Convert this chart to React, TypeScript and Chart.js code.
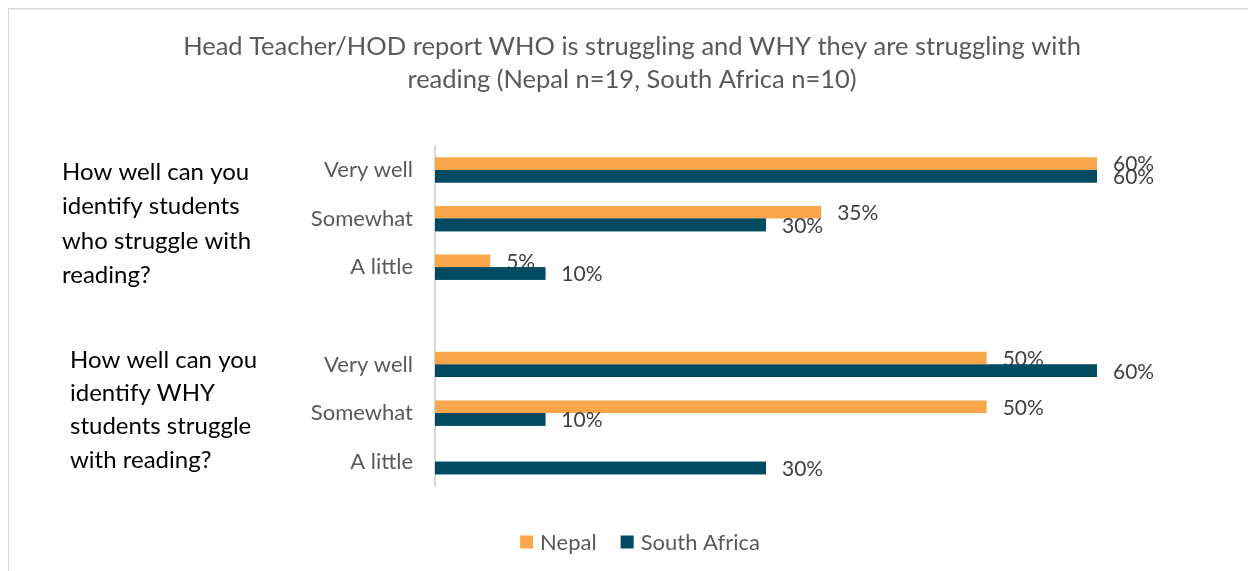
import React, { useEffect, useRef } from "react";
import { Chart, registerables } from "chart.js";

Chart.register(...registerables);

const titleLines = [
  "Head Teacher/HOD report WHO is struggling and WHY they are struggling with",
  "reading (Nepal n=19, South Africa n=10)",
];
const categories = ["Very well", "Somewhat", "A little", "", "Very well", "Somewhat", "A little"];
const nepalValues = [0.6, 0.35, 0.05, null, 0.5, 0.5, 0];
const southAfricaValues = [0.6, 0.3, 0.1, null, 0.6, 0.1, 0.3];
const seriesNames = ["Nepal", "South Africa"];
const seriesColors = ["#FAA64B", "#004A62"];
const questionTexts = [
  ["How well can you", "identify students", "who struggle with", "reading?"],
  ["How well can you", "identify WHY", "students struggle", "with reading?"],
];
const questionAnchorCategory = [1, 5];

const FONT = "Lato, 'Open Sans', sans-serif";

const fmt = (v: number) => Math.round(v * 100) + "%";

const decorPlugin = {
  id: "decor",
  beforeDraw(chart: any) {
    const { ctx, width, height } = chart;
    ctx.save();
    ctx.fillStyle = "#ffffff";
    ctx.fillRect(0, 0, width, height);
    ctx.strokeStyle = "#D9D9D9";
    ctx.lineWidth = 2;
    ctx.beginPath();
    ctx.moveTo(0, height);
    ctx.lineTo(0, 0.5);
    ctx.lineTo(width, 0.5);
    ctx.stroke();
    ctx.restore();
  },
  afterDatasetsDraw(chart: any) {
    const { ctx } = chart;
    const yScale = chart.scales.y;
    ctx.save();
    // question texts
    ctx.fillStyle = "#000000";
    ctx.font = `24px ${FONT}`;
    ctx.textAlign = "left";
    ctx.textBaseline = "middle";
    const qx = [54, 62];
    const qOff = [5, -3];
    const qLh = [34.5, 33.3];
    questionTexts.forEach((lines, qi) => {
      const cy = yScale.getPixelForValue(questionAnchorCategory[qi]) + qOff[qi];
      lines.forEach((line, li) => {
        ctx.fillText(line, qx[qi], cy + (li - (lines.length - 1) / 2) * qLh[qi]);
      });
    });

    const drawLabels = (di: number) => {
      const meta = chart.getDatasetMeta(di);
      const data = chart.data.datasets[di].data;
      ctx.fillStyle = "#404040";
      ctx.font = `21px ${FONT}`;
      ctx.textAlign = "left";
      ctx.textBaseline = "middle";
      meta.data.forEach((el: any, i: number) => {
        const v = data[i];
        if (v === null || v === undefined || v === 0) return;
        ctx.fillText(fmt(v), el.x + 16, el.y + 1);
      });
    };
    drawLabels(0);
    // South Africa bars sit on top of Nepal labels, as in the original
    chart.getDatasetMeta(1).data.forEach((el: any) => el.draw(ctx));
    drawLabels(1);

    // legend
    ctx.font = `22px ${FONT}`;
    ctx.textBaseline = "middle";
    const box = 13;
    const textGap = 7;
    const itemGap = 24;
    const widths = seriesNames.map((n) => box + textGap + ctx.measureText(n).width);
    const total = widths.reduce((a, b) => a + b, 0) + itemGap * (seriesNames.length - 1);
    let lx = chart.width / 2 + 8 - total / 2;
    const ly = 534;
    seriesNames.forEach((n, i) => {
      ctx.fillStyle = seriesColors[i];
      ctx.fillRect(lx, ly - box / 2, box, box);
      ctx.fillStyle = "#595959";
      ctx.fillText(n, lx + box + textGap, ly + 1);
      lx += widths[i] + itemGap;
    });
    ctx.restore();
  },
};

export default function App() {
  const ref = useRef<HTMLCanvasElement>(null);
  useEffect(() => {
    if (!ref.current) return;
    const chart = new Chart(ref.current, {
      type: "bar",
      data: {
        labels: categories,
        datasets: [
          {
            label: seriesNames[0],
            data: nepalValues,
            backgroundColor: seriesColors[0],
            categoryPercentage: 0.52,
            barPercentage: 1,
          },
          {
            label: seriesNames[1],
            data: southAfricaValues,
            backgroundColor: seriesColors[1],
            categoryPercentage: 0.52,
            barPercentage: 1,
          },
        ],
      },
      options: {
        indexAxis: "y",
        animation: false,
        responsive: false,
        maintainAspectRatio: false,
        layout: { padding: 0 },
        scales: {
          x: {
            min: 0,
            max: 0.7441,
            display: true,
            grid: { display: false },
            border: { display: false },
            ticks: { display: false },
            afterFit: (s: any) => {
              s.height = 85;
            },
          },
          y: {
            grid: { display: false, drawTicks: false },
            border: { display: true, color: "#D9D9D9", width: 2 },
            ticks: {
              color: "#595959",
              font: { size: 22, family: FONT },
              padding: 22,
            },
            afterFit: (s: any) => {
              s.width = 427;
            },
          },
        },
        plugins: {
          title: {
            display: true,
            text: titleLines,
            color: "#595959",
            font: { size: 25.5, family: FONT, weight: "normal", lineHeight: 1.32 },
            padding: { top: 21.5, bottom: 48.8 },
          },
          legend: { display: false },
          tooltip: { enabled: false },
        },
      },
      plugins: [decorPlugin],
    } as any);
    return () => chart.destroy();
  }, []);
  return (
    <div style={{ width: 1248, height: 563 }}>
      <canvas ref={ref} width={1248} height={563} style={{ display: "block" }} />
    </div>
  );
}
